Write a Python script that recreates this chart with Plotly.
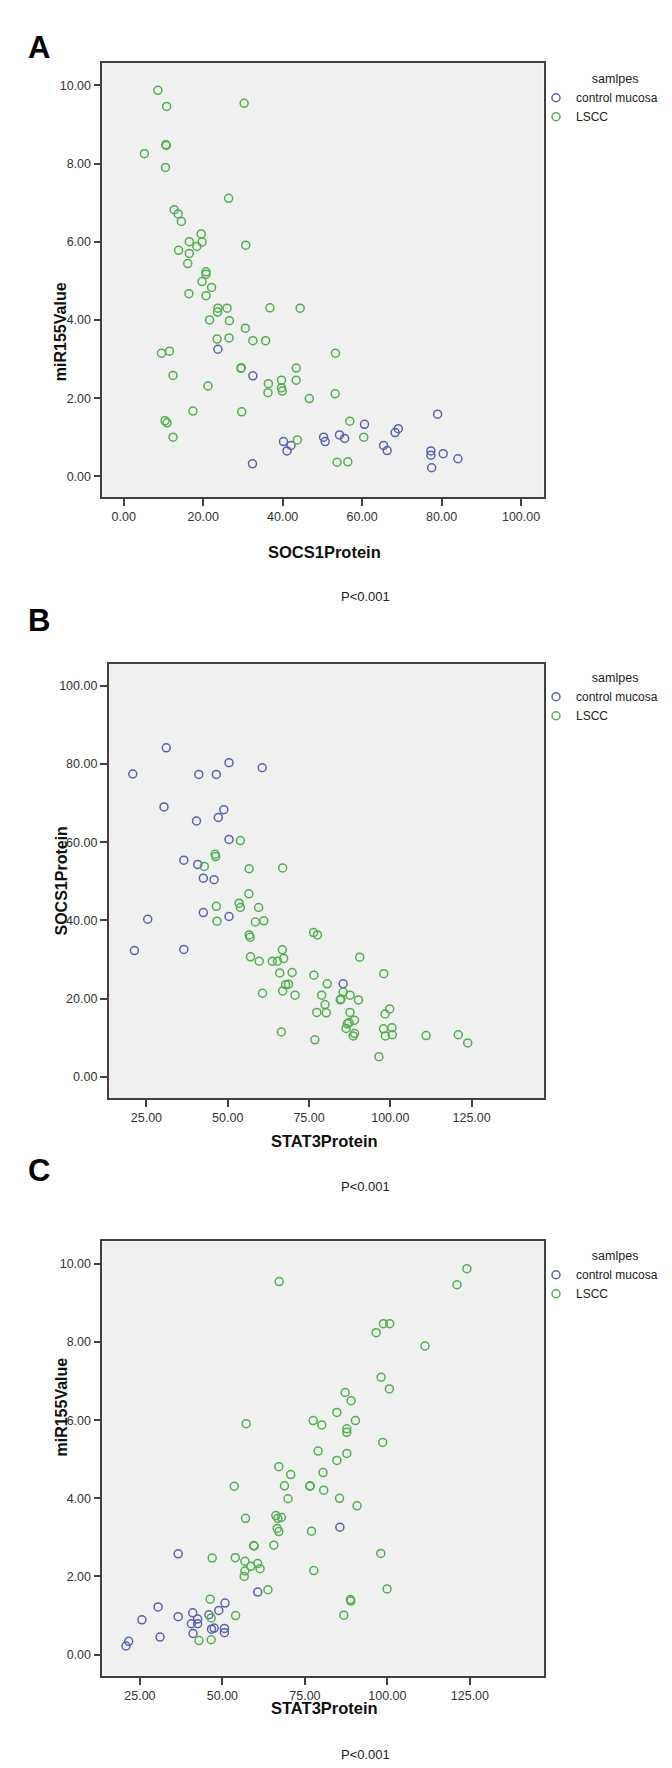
import plotly.graph_objects as go

W, H = 672, 1768
BLUE = "#5a60b3"
GREEN = "#50b04e"
FONT = "Arial, Liberation Sans, sans-serif"

# ---------------- data ----------------
group_names = ["control mucosa", "LSCC"]
legend_title = "samlpes"
p_text = "P<0.001"

# Panel A: SOCS1Protein (x) vs miR155Value (y)
a_ctrl_socs1 = [23.7, 32.5, 79.0, 60.6, 69.1, 68.3, 50.3, 54.3, 55.6, 50.7, 40.2,
                42.1, 41.1, 65.4, 66.3, 77.3, 77.3, 80.4, 84.1, 77.5, 32.4]
a_ctrl_mir = [3.25, 2.57, 1.59, 1.33, 1.22, 1.12, 1.00, 1.06, 0.97, 0.89, 0.89,
              0.79, 0.65, 0.79, 0.66, 0.65, 0.54, 0.58, 0.45, 0.22, 0.32]
a_lscc_socs1 = [8.6, 10.8, 30.3, 10.6, 10.7, 5.2, 10.5, 26.4, 12.7, 13.7, 14.5, 19.5,
                16.5, 19.7, 30.7, 18.4, 13.8, 16.5, 16.1, 20.7, 20.7, 19.7, 22.1, 16.4,
                20.7, 23.7, 23.6, 26.0, 36.8, 44.4, 21.6, 26.6, 30.6, 23.5, 26.5, 32.5,
                35.7, 9.5, 11.5, 53.3, 29.6, 29.5, 43.4, 12.4, 36.4, 39.7, 43.4, 39.7,
                39.9, 36.3, 21.2, 53.2, 46.7, 17.4, 29.7, 10.4, 10.9, 56.9, 12.4, 43.7,
                60.4, 53.7, 56.4]
a_lscc_mir = [9.87, 9.46, 9.54, 8.48, 8.46, 8.25, 7.90, 7.11, 6.82, 6.71, 6.52, 6.20,
              6.00, 5.99, 5.91, 5.88, 5.78, 5.70, 5.44, 5.23, 5.17, 4.98, 4.83, 4.67,
              4.62, 4.30, 4.20, 4.30, 4.31, 4.30, 4.00, 3.98, 3.79, 3.51, 3.54, 3.47,
              3.47, 3.15, 3.20, 3.15, 2.78, 2.76, 2.77, 2.58, 2.37, 2.46, 2.46, 2.26,
              2.18, 2.14, 2.31, 2.11, 1.99, 1.67, 1.65, 1.42, 1.37, 1.41, 1.00, 0.93,
              1.00, 0.36, 0.37]

# Panel B: STAT3Protein (x) vs SOCS1Protein (y)
b_ctrl_stat3 = [31.1, 20.8, 41.1, 46.5, 50.4, 60.6, 30.4, 48.8, 47.1, 40.4, 50.4,
                36.5, 40.8, 42.5, 45.8, 25.4, 42.5, 50.4, 21.3, 36.5, 85.5]
b_ctrl_socs1 = [84.1, 77.4, 77.3, 77.3, 80.3, 79.0, 69.0, 68.3, 66.3, 65.4, 60.7,
                55.4, 54.3, 50.8, 50.4, 40.3, 42.0, 41.0, 32.3, 32.6, 23.8]
b_lscc_stat3 = [53.9, 46.1, 46.3, 42.8, 56.6, 66.9, 56.5, 46.5, 53.5, 53.9, 59.5, 46.7,
                58.5, 61.1, 56.6, 56.9, 76.4, 77.6, 66.8, 57.0, 59.7, 63.7, 65.3, 67.2,
                90.6, 66.0, 69.8, 76.5, 98.0, 80.6, 67.8, 68.7, 66.9, 60.7, 70.7, 85.5,
                78.9, 87.6, 90.2, 84.6, 84.8, 79.9, 77.4, 80.3, 87.6, 99.8, 98.4, 89.0,
                87.3, 86.8, 86.4, 97.9, 100.5, 66.5, 89.0, 88.6, 98.5, 100.6, 111.0,
                120.9, 123.8, 76.8, 96.5]
b_lscc_socs1 = [60.4, 56.9, 56.3, 53.8, 53.2, 53.4, 46.8, 43.6, 44.4, 43.3, 43.3, 39.8,
                39.6, 39.9, 36.3, 35.7, 36.9, 36.3, 32.5, 30.7, 29.6, 29.6, 29.6, 30.3,
                30.6, 26.6, 26.7, 26.0, 26.4, 23.8, 23.6, 23.7, 22.0, 21.4, 20.9, 21.7,
                20.9, 20.9, 19.7, 19.7, 19.9, 18.5, 16.5, 16.4, 16.5, 17.4, 16.1, 14.5,
                13.9, 13.6, 12.4, 12.3, 12.6, 11.5, 11.1, 10.5, 10.5, 10.8, 10.6,
                10.8, 8.7, 9.5, 5.2]

# Panel C: STAT3Protein (x) vs miR155Value (y)
c_ctrl_stat3 = [85.6, 36.6, 60.7, 30.5, 50.8, 48.9, 25.6, 36.6, 41.0, 45.9, 42.5,
                42.5, 40.6, 41.1, 46.7, 47.5, 50.6, 50.6, 31.1, 21.6, 20.8]
c_ctrl_mir = [3.26, 2.58, 1.60, 1.22, 1.32, 1.13, 0.89, 0.97, 1.07, 1.02, 0.91,
              0.79, 0.79, 0.54, 0.65, 0.68, 0.67, 0.56, 0.45, 0.34, 0.22]
c_lscc_stat3 = [124.1, 121.1, 67.2, 98.8, 100.7, 96.6, 111.4, 98.1, 100.6, 87.2, 89.0,
                84.7, 77.5, 90.3, 80.1, 57.2, 87.7, 87.7, 98.6, 79.0, 87.7, 84.7, 67.1,
                70.7, 80.5, 53.6, 68.8, 76.6, 76.5, 80.7, 69.9, 85.5, 90.8, 57.0, 66.2,
                66.8, 67.9, 66.6, 67.1, 77.0, 59.5, 59.6, 65.6, 98.0, 46.9, 53.9, 56.8,
                60.7, 58.6, 61.4, 56.8, 56.6, 77.7, 63.8, 99.9, 46.3, 88.8, 88.9, 54.0,
                86.8, 46.6, 42.9, 46.6]
c_lscc_mir = [9.88, 9.47, 9.55, 8.47, 8.47, 8.24, 7.90, 7.10, 6.80, 6.71, 6.50,
              6.20, 5.99, 5.99, 5.88, 5.91, 5.78, 5.69, 5.43, 5.21, 5.15, 4.97, 4.81,
              4.61, 4.66, 4.31, 4.32, 4.32, 4.31, 4.21, 3.99, 4.00, 3.81, 3.49, 3.56,
              3.49, 3.51, 3.23, 3.15, 3.16, 2.79, 2.78, 2.80, 2.59, 2.47, 2.48, 2.39,
              2.33, 2.26, 2.20, 2.14, 2.00, 2.15, 1.66, 1.68, 1.42, 1.41, 1.37, 1.00,
              1.01, 0.94, 0.36, 0.38]

panel_letters = ["A", "B", "C"]
x_titles = ["SOCS1Protein", "STAT3Protein", "STAT3Protein"]
y_titles = ["miR155Value", "SOCS1Protein", "miR155Value"]

# ---------------- layout helpers ----------------
def fx(px):
    return px / W

def fy(py):
    return 1 - py / H

panels = [
    dict(ctrl=(a_ctrl_socs1, a_ctrl_mir), lscc=(a_lscc_socs1, a_lscc_mir),
         box=(94.3, 535.7, 55.0, 489.3), xr=[-5.4, 105.7], yr=[-0.536, 10.57],
         xt=[0, 20, 40, 60, 80, 100], yt=[0, 2, 4, 6, 8, 10],
         letter_y=20, xtitle_y=533, ytitle_x=42, p_y=579, leg_top=59),
    dict(ctrl=(b_ctrl_stat3, b_ctrl_socs1), lscc=(b_lscc_stat3, b_lscc_socs1),
         box=(100.7, 535.8, 656.0, 1090.0), xr=[13.4, 147.2], yr=[-5.36, 105.5],
         xt=[25, 50, 75, 100, 125], yt=[0, 20, 40, 60, 80, 100],
         letter_y=612, xtitle_y=1133, ytitle_x=42, p_y=1178, leg_top=658),
    dict(ctrl=(c_ctrl_stat3, c_ctrl_mir), lscc=(c_lscc_stat3, c_lscc_mir),
         box=(94.3, 535.8, 1233.3, 1667.7), xr=[13.6, 147.4], yr=[-0.54, 10.58],
         xt=[25, 50, 75, 100, 125], yt=[0, 2, 4, 6, 8, 10],
         letter_y=1182, xtitle_y=1711, ytitle_x=42, p_y=1756, leg_top=1236),
]

fig = go.Figure()
annotations = []
layout_axes = {}

axis_common = dict(
    showline=True, linecolor="#404040", linewidth=1.6, mirror=True,
    ticks="outside", ticklen=7, tickwidth=1.5, tickcolor="#404040",
    showgrid=False, zeroline=False, tickformat=".2f",
    tickfont=dict(family=FONT, size=12.5, color="#333333"),
)

for i, p in enumerate(panels):
    n = "" if i == 0 else str(i + 1)
    xa, ya = "x" + n, "y" + n
    leg = "legend" + n
    for (xs, ys), name, col in [(p["ctrl"], group_names[0], BLUE),
                                (p["lscc"], group_names[1], GREEN)]:
        fig.add_trace(go.Scatter(
            x=xs, y=ys, mode="markers", name=name, xaxis=xa, yaxis=ya,
            legend=leg, showlegend=True,
            marker=dict(symbol="circle-open", size=8, color=col,
                        line=dict(width=1.5, color=col)),
        ))
    l, r, t, b = p["box"]
    layout_axes["xaxis" + n] = dict(axis_common, domain=[fx(l), fx(r)], range=p["xr"],
                                    tickvals=p["xt"], anchor=ya)
    layout_axes["yaxis" + n] = dict(axis_common, domain=[fy(b), fy(t)], range=p["yr"],
                                    tickvals=p["yt"], anchor=xa)
    layout_axes[leg] = dict(
        title=dict(text="&nbsp;" * 9 + legend_title, side="top center",
                   font=dict(family=FONT, size=12.5, color="#222222")),
        font=dict(family=FONT, size=12, color="#222222"),
        x=fx(528), y=fy(p["leg_top"]), xanchor="left", yanchor="top",
        bgcolor="rgba(0,0,0,0)", tracegroupgap=0, itemsizing="trace",
    )
    annotations += [
        dict(text="<b>%s</b>" % panel_letters[i], x=fx(18), y=fy(p["letter_y"]),
             xref="paper", yref="paper", showarrow=False,
             font=dict(family=FONT, size=31, color="#000000")),
        dict(text="<b>%s</b>" % x_titles[i], x=fx(316), y=fy(p["xtitle_y"]),
             xref="paper", yref="paper", showarrow=False,
             font=dict(family=FONT, size=16.5, color="#111111")),
        dict(text="<b>%s</b>" % y_titles[i], x=fx(p["ytitle_x"]), y=fy((t + b) / 2),
             xref="paper", yref="paper", showarrow=False, textangle=-90,
             font=dict(family=FONT, size=16, color="#111111")),
        dict(text=p_text.replace("<", "&lt;"), x=fx(357), y=fy(p["p_y"]),
             xref="paper", yref="paper", showarrow=False,
             font=dict(family=FONT, size=13, color="#222222")),
    ]

fig.update_layout(
    width=W, height=H, margin=dict(l=0, r=0, t=0, b=0),
    paper_bgcolor="white", plot_bgcolor="#f0f0f0",
    annotations=annotations, **layout_axes,
)

fig.write_html("out.html")
